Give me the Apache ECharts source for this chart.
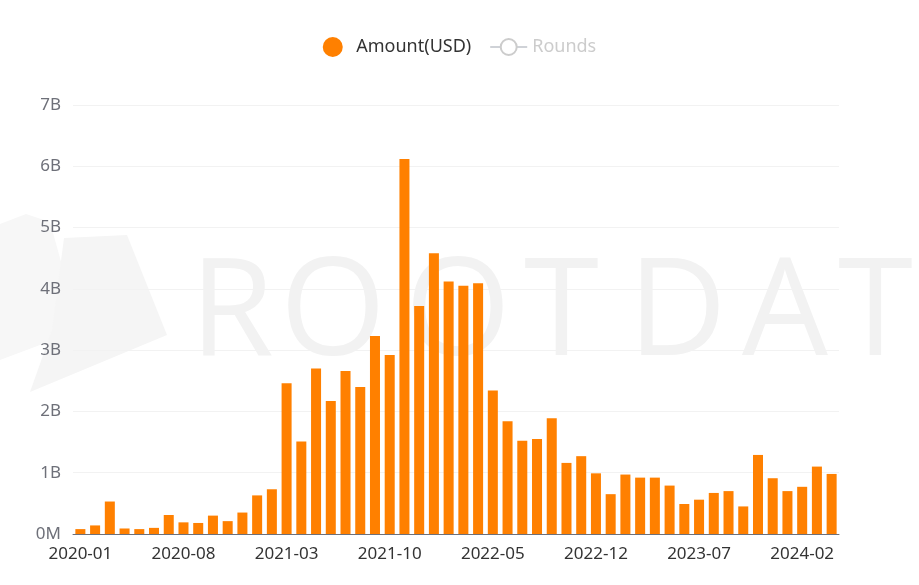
<!DOCTYPE html>
<html>
<head>
<meta charset="utf-8">
<script src="https://cdn.jsdelivr.net/npm/echarts@6/dist/echarts.min.js"></script>
<style>
html,body{margin:0;padding:0;background:#fff;}
#chart{width:919px;height:585px;}
</style>
</head>
<body>
<div id="chart"></div>
<script>
// Monthly categories 2020-01 .. 2024-04
const months = [
  '2020-01','2020-02','2020-03','2020-04','2020-05','2020-06','2020-07','2020-08','2020-09','2020-10','2020-11','2020-12',
  '2021-01','2021-02','2021-03','2021-04','2021-05','2021-06','2021-07','2021-08','2021-09','2021-10','2021-11','2021-12',
  '2022-01','2022-02','2022-03','2022-04','2022-05','2022-06','2022-07','2022-08','2022-09','2022-10','2022-11','2022-12',
  '2023-01','2023-02','2023-03','2023-04','2023-05','2023-06','2023-07','2023-08','2023-09','2023-10','2023-11','2023-12',
  '2024-01','2024-02','2024-03','2024-04'
];
// Amount (USD), in billions
const amountBillions = [
  0.08,0.14,0.53,0.09,0.08,0.10,0.31,0.19,0.18,0.30,0.21,0.35,
  0.63,0.73,2.46,1.51,2.70,2.17,2.66,2.40,3.23,2.92,6.12,3.72,
  4.58,4.12,4.05,4.09,2.34,1.84,1.52,1.55,1.89,1.16,1.27,0.99,
  0.65,0.97,0.92,0.92,0.79,0.49,0.56,0.67,0.70,0.45,1.29,0.91,
  0.70,0.77,1.10,0.98
];
// Rounds series is hidden (deselected) in the reference; values not visible
const roundsValues = [];
const yTicks = [0,1,2,3,4,5,6,7];

const chart = echarts.init(document.getElementById('chart'), null, {renderer:'canvas'});
const wmColor = '#f2f2f2';
const font = '"Noto Sans", "Open Sans", sans-serif';
const wmLetters = [['R',190],['O',280],['O',405],['T',524],['D',628],['A',742],['T',838]];
const graphics = [
  {type:'polygon', z:-10, silent:true, shape:{points:[[0,224],[26,214],[50,222],[80,330],[0,360]]}, style:{fill:'#f7f7f7'}},
  {type:'polygon', z:-10, silent:true, shape:{points:[[64,238],[127,235],[167,335],[30,392],[52,330]]}, style:{fill:'#f5f5f5'}}
].concat(wmLetters.map(([ch,x]) => ({
  type:'text', z:-10, silent:true, left:x, top:248,
  style:{text:ch, fill:wmColor, font:'500 136px "Open Sans", "Noto Sans", sans-serif'}
})));

chart.setOption({
  animation:false,
  backgroundColor:'#fff',
  graphic: graphics,
  legend:{
    top:32, left:'center',
    itemWidth:37, itemHeight:20, itemGap:18,
    inactiveColor:'#ccc',
    textStyle:{fontSize:18, color:'#333', fontFamily:font},
    data:[{name:'Amount(USD)', icon:'circle'}, {name:'Rounds'}],
    selected:{'Amount(USD)':true, 'Rounds':false}
  },
  grid:{left:73, right:80, top:105, bottom:51, containLabel:false},
  xAxis:{
    type:'category', data:months,
    axisLine:{lineStyle:{color:'#6E7079', width:1}},
    axisTick:{alignWithLabel:true, interval:6, length:5, lineStyle:{color:'#6E7079'}},
    axisLabel:{interval:6, color:'#333', fontSize:17, margin:12, fontFamily:font}
  },
  yAxis:[{
    type:'value', min:yTicks[0], max:yTicks[yTicks.length-1], interval:1,
    axisLine:{show:false}, axisTick:{show:false},
    splitLine:{lineStyle:{color:'#f2f2f2'}},
    axisLabel:{color:'#6E7079', fontSize:17, margin:12, fontFamily:font,
      formatter: v => v === 0 ? '0M' : v + 'B'}
  },{
    type:'value', show:false
  }],
  series:[{
    name:'Amount(USD)', type:'bar', data:amountBillions,
    barCategoryGap:'32%',
    itemStyle:{color:'#ff8000'}
  },{
    name:'Rounds', type:'line', yAxisIndex:1, data:roundsValues,
    symbol:'emptyCircle', symbolSize:10, lineStyle:{width:3}, itemStyle:{borderWidth:3}
  }]
});
</script>
</body>
</html>
